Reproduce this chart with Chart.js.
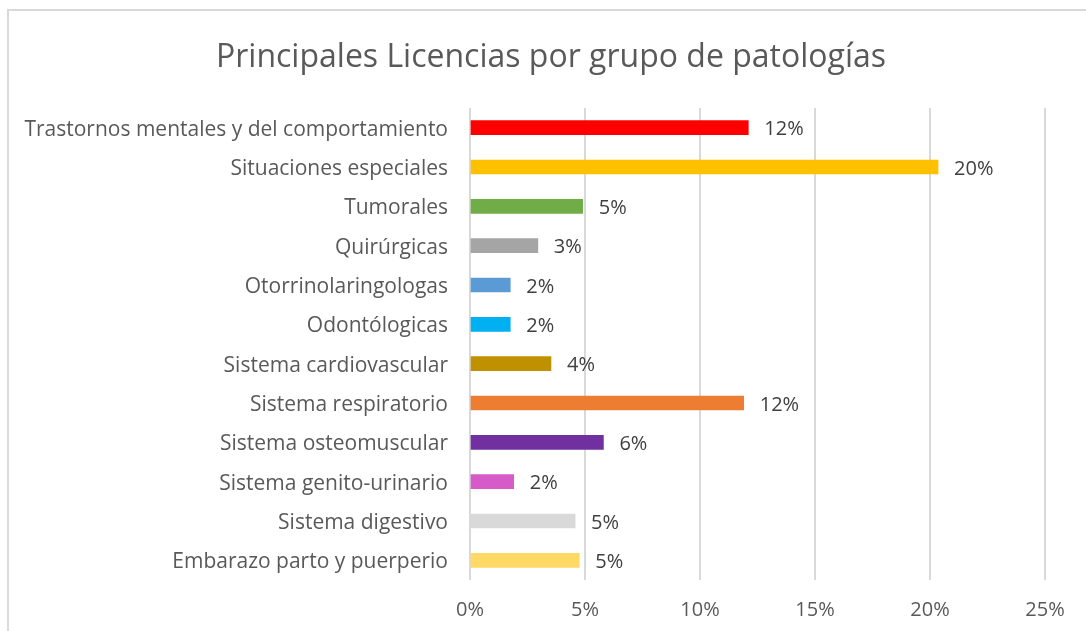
<!DOCTYPE html>
<html>
<head>
<meta charset="utf-8">
<script src="https://cdn.jsdelivr.net/npm/chart.js@4/dist/chart.umd.min.js"></script>
<style>
  body { margin: 0; background: #fff; overflow: hidden; }
  #frame { position: absolute; left: 7px; top: 9px; width: 1200px; height: 700px; border: 2px solid #d9d9d9; box-sizing: border-box; }
  #wrap { position: absolute; left: 0; top: 0; width: 1086px; height: 631px; }
</style>
</head>
<body>
<div id="frame"></div>
<div id="wrap"><canvas id="myChart"></canvas></div>
<script>
// categories, top to bottom as in the picture
const categories = [
  'Trastornos mentales y del comportamiento',
  'Situaciones especiales',
  'Tumorales',
  'Quirúrgicas',
  'Otorrinolaringologas',
  'Odontólogicas',
  'Sistema cardiovascular',
  'Sistema respiratorio',
  'Sistema osteomuscular',
  'Sistema genito-urinario',
  'Sistema digestivo',
  'Embarazo parto y puerperio'
];
// percent of licences
const values = [12.1, 20.35, 4.9, 2.95, 1.75, 1.75, 3.52, 11.9, 5.8, 1.9, 4.57, 4.75];
const barColors = ['#FF0000', '#FFC000', '#70AD47', '#A5A5A5', '#5B9BD5', '#00B0F0',
  '#BF9000', '#ED7D31', '#7030A0', '#D65BC8', '#D9D9D9', '#FFD966'];
const xMin = 0, xMax = 25, xStep = 5;
const title = 'Principales Licencias por grupo de patologías';

var font = '"Open Sans", Lato, sans-serif';

// title is drawn by hand so it can sit centred on the frame, not the canvas
const frameTitle = {
  id: 'frameTitle',
  afterDraw(chart) {
    var ctx = chart.ctx;
    ctx.save();
    ctx.font = '32px ' + font;
    ctx.fillStyle = '#595959';
    ctx.textAlign = 'center';
    ctx.textBaseline = 'middle';
    ctx.fillText(title, 551, 58);
    ctx.restore();
  }
};

// draws the "12%" labels next to each bar
const barLabels = {
  id: 'barLabels',
  afterDatasetsDraw(chart) {
    var ctx = chart.ctx;
    var meta = chart.getDatasetMeta(0);
    ctx.save();
    ctx.font = '20px ' + font;
    ctx.fillStyle = '#404040';
    ctx.textAlign = 'left';
    ctx.textBaseline = 'middle';
    meta.data.forEach((bar, i) => {
      ctx.fillText(Math.round(values[i]) + '%', bar.x + 16, bar.y + 2);
    });
    ctx.restore();
  }
};

var ctx = document.getElementById('myChart').getContext('2d');
var chart = new Chart(ctx, {
  type: 'bar',
  data: {
    labels: categories,
    datasets: [{
      data: values,
      backgroundColor: barColors,
      barThickness: 14
    }]
  },
  options: {
    indexAxis: 'y',
    responsive: true,
    maintainAspectRatio: false,
    animation: false,
    layout: { padding: { left: 0, right: 41, top: 108, bottom: 0 } },
    plugins: {
      legend: { display: false },
      tooltip: { enabled: false },
      title: { display: false }
    },
    scales: {
      x: {
        min: xMin,
        max: xMax,
        ticks: {
          stepSize: xStep,
          color: '#595959',
          font: { family: font, size: 20 },
          padding: 18,
          callback: v => v + '%'
        },
        grid: { color: '#d9d9d9', lineWidth: 2, drawTicks: false },
        border: { display: false },
        afterFit: scale => { scale.height = 51; }
      },
      y: {
        ticks: {
          color: '#595959',
          font: { family: font, size: 21 },
          padding: 22,
          labelOffset: 2,
          autoSkip: false
        },
        grid: { display: false, drawTicks: false },
        border: { display: false },
        afterFit: scale => { scale.width = 470; }
      }
    }
  },
  plugins: [barLabels, frameTitle]
});
</script>
</body>
</html>
